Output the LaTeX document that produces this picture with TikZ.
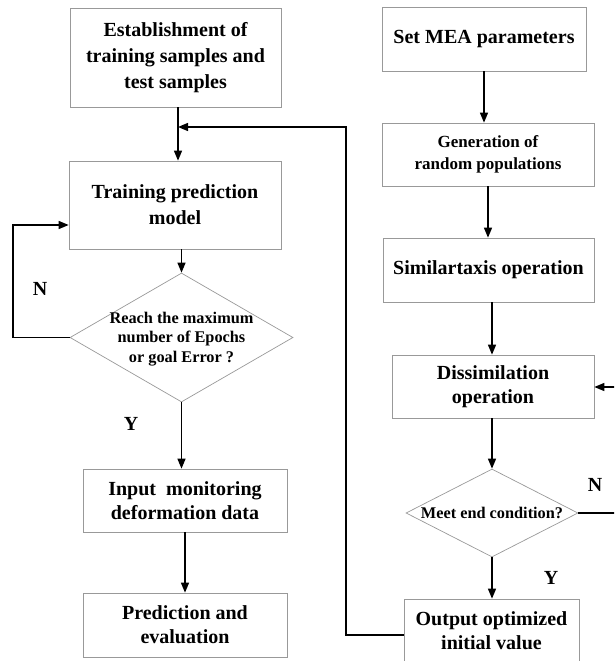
\documentclass[tikz,border=0pt]{standalone}
\usepackage{fontspec}
\setmainfont{Liberation Serif}
\usetikzlibrary{arrows.meta,shapes.geometric}

\tikzset{
  box/.style={draw=black!40, line width=0.7pt, fill=white, rectangle, inner sep=0pt,
              align=center, font=\bfseries\fontsize{20}{24}\selectfont},
  dia/.style={draw=black!40, line width=0.7pt, fill=white, diamond, inner sep=0pt},
  txt/.style={align=center, inner sep=0pt},
  arr/.style={draw=black, line width=1.4pt, -{Triangle[length=10pt,width=8pt]}},
  ln/.style={draw=black, line width=1.4pt},
  yn/.style={font=\bfseries\fontsize{20}{24}\selectfont, inner sep=0pt}
}

\begin{document}
\begin{tikzpicture}[x=1pt,y=-1pt]
  \useasboundingbox (0,0) rectangle (614,661);
  \clip (0,0) rectangle (614,661);

  % training branch (left column)
  \node[box, minimum width=211pt, minimum height=99pt, font=\bfseries\fontsize{20}{26}\selectfont]
        (b1) at (175.5,57.5) {Establishment of\\training samples and\\test samples};
  \node[box, minimum width=212pt, minimum height=88pt, font=\bfseries\fontsize{20}{26}\selectfont]
        (b2) at (175,205) {Training prediction\\model};
  \node[dia, minimum width=223pt, minimum height=129pt] (d1) at (181.5,337.5) {};
  \node[txt, font=\bfseries\fontsize{16.3}{19.5}\selectfont] (d1t) at (181.5,339)
        {Reach the maximum\\number of Epochs\\or goal Error ?};
  \node[box, minimum width=204pt, minimum height=63pt] (b3) at (185,500.5)
        {Input\ \ monitoring\\deformation data};
  \node[box, minimum width=204pt, minimum height=64pt] (b4) at (185,625)
        {Prediction and\\evaluation};

  % MEA optimisation branch (right column)
  \node[box, minimum width=204pt, minimum height=64pt] (r1) at (484,39) {Set MEA parameters};
  \node[box, minimum width=212pt, minimum height=63pt, font=\bfseries\fontsize{17}{22}\selectfont]
        (r2) at (488,154.5) {Generation of\\random populations};
  \node[box, minimum width=211pt, minimum height=64pt] (r3) at (488.5,270) {Similartaxis operation};
  \node[box, minimum width=202pt, minimum height=63pt] (r4) at (493,386.5) {Dissimilation\\operation};
  \node[dia, minimum width=172pt, minimum height=88pt] (d2) at (492,513) {};
  \node[txt, font=\bfseries\fontsize{16.3}{19}\selectfont] (d2t) at (492,513) {Meet end condition?};
  \node[box, minimum width=175pt, minimum height=63pt] (r5) at (491.5,630.5)
        {Output optimized\\initial value};

  % branch labels
  \node[yn] (n1) at (40,289) {N};
  \node[yn] (y1) at (131,424) {Y};
  \node[yn] (n2) at (595,485) {N};
  \node[yn] (y2) at (551,578) {Y};

  % helper points for the routed connectors
  \coordinate (nl) at (13,225);
  \coordinate (fb) at (346,127);
  \coordinate (fbe) at (178,127);
  \coordinate (rin) at (625,387);
  \coordinate (rout) at (625,513);

  % left column flow
  \draw[arr] ([xshift=2.5pt]b1.south) -- ([xshift=3pt]b2.north);
  \draw[arr] (b2.south -| d1.north) -- (d1.north);
  \draw[arr] (d1.south) -- (d1.south |- b3.north);
  \draw[arr] (b3.south) -- (b4.north);
  \draw[arr] (d1.west) -| (nl) -- (nl -| b2.west);

  % right column flow
  \draw[arr] (r1.south) -- (r1.south |- r2.north);
  \draw[arr] (r2.south) -- (r2.south |- r3.north);
  \draw[arr] (r3.south -| d2.north) -- (r4.north -| d2.north);
  \draw[arr] (r4.south -| d2.north) -- (d2.north);
  \draw[arr] (d2.south) -- (d2.south |- r5.north);
  \draw[ln] (d2.east) -- (rout);
  \draw[arr] (rin) -- (rin -| r4.east);

  % optimised weights fed back into training
  \draw[arr] ([yshift=-4.5pt]r5.west) -| (fb) -- (fbe);
\end{tikzpicture}
\end{document}
